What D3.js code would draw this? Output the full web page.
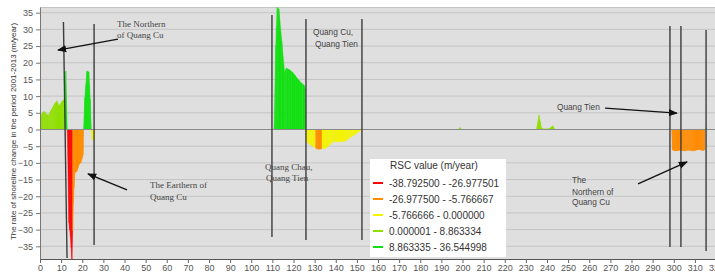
<!DOCTYPE html>
<html>
<head>
<meta charset="utf-8">
<script src="https://cdn.jsdelivr.net/npm/d3@7"></script>
<style>
  body { margin: 0; background: #fff; }
  svg { display: block; }
  .tick text { font-family: "Liberation Sans", Arial, sans-serif; font-size: 9px; fill: #555; }
</style>
</head>
<body>
<div id="viz"></div>
<script>
// transect ids along the shore and their RSC value (m/year)
const transectIds = [0, 1, 2, 3, 4, 5, 6, 7, 8, 9, 10, 10.8, 11.4, 12.2, 12.9, 13.7, 14.4, 15.1, 15.8, 16.5, 17.5, 18.5, 19.5, 20.4, 20.6,
  21.2, 22.2, 23.1, 23.8, 24.3, 24.7, 25.3, 25.8,
  110.8, 111.6, 112.3, 113.1, 115.8, 116.6, 118.3, 119.8, 121.7, 123.6, 125, 125.6, 125.9,
  126.2, 127, 128, 129, 130, 131, 132, 133, 134, 135, 136, 137, 138, 139, 140, 141, 142, 143, 144, 145, 146, 147, 148, 149, 150, 151, 152, 152.5,
  198, 198.8, 199.6,
  235, 236.2, 237.4, 238, 241, 242.8, 243.8,
  299, 299.4, 300, 301, 302, 303, 304, 305, 306, 307, 308, 309, 310, 311, 312, 313, 314, 314.6, 314.8, 315.2, 315.6, 320];
const rscValues = [3.5, 4.8, 5.5, 4.6, 4.2, 5.6, 6.6, 7.8, 8.6, 7.0, 8.0, 8.7, 8.8, 17.5, 0, -28, -32, -38.79, -22, -13, -12.5, -10.5, -9.8, -7.6, 0,
  9.5, 17.5, 17.2, 9, 0, -3, -3.1, 0,
  0, 25, 36.54, 36, 17, 18.4, 17.8, 17, 15.4, 14, 13.3, 12, 0,
  -3.6, -4.1, -4.5, -5.0, -5.3, -5.8, -5.9, -5.85, -5.6, -5.7, -5.2, -4.7, -4.1, -3.6, -3.6, -3.7, -3.7, -3.6, -3.5, -3.3, -2.8, -2.3, -1.9, -1.5, -1.0, -0.6, -0.2, 0,
  0, 0.6, 0,
  0, 4.3, 0.5, 0.2, 0.2, 1.1, 0,
  0, -6.1, -6.3, -6.4, -6.3, -6.2, -6.3, -6.4, -6.3, -6.2, -6.3, -6.4, -6.3, -6.1, -6.0, -6.2, -6.3, -6.1, 0, 0.6, 0, 0];

// legend classes
const classBreaks = [-26.977501, -5.766667, 0, 8.863334];
const classColors = ["#ff0000", "#ff8c00", "#f4f400", "#8fe000", "#12e012"];
const classLabels = ["-38.792500 - -26.977501", "-26.977500 - -5.766667", "-5.766666 - 0.000000",
  "0.000001 - 8.863334", "8.863335 - 36.544998"];

// hand drawn section lines: [x top, value top, x bottom, value bottom]
const sectionLines = [[11.1, 32.2, 12.8, -38.5], [25.6, 31.6, 25.6, -34.6], [109.8, 34.3, 109.8, -32.2],
  [125.9, 33.1, 125.9, -33.1], [152.4, 33.1, 152.4, -33.1], [298.2, 31, 298.2, -35.2],
  [303.4, 31, 303.4, -35.2], [315.3, 29.8, 315.3, -36.4]];

// annotation labels: [x, value, text, serif?]
const noteTexts = [
  [36.4, 30.7, "The Northern", 1], [36.4, 27.4, "of Quang Cu", 1],
  [52.1, -17.5, "The Earthern of", 1], [52.1, -21.1, "Quang Cu", 1],
  [129.2, 28.3, "Quang Cu,", 0], [130.2, 24.7, "Quang Tien", 0],
  [106.5, -12.1, "Quang Chau,", 1], [107, -15.4, "Quang Tien", 1],
  [244.7, 5.8, "Quang Tien", 0],
  [251.8, -16, "The", 0], [251.8, -19.6, "Northern of", 0], [251.8, -22.6, "Quang Cu", 0]
];
// arrows: [x from, value from, x to, value to]
const noteArrows = [[36.9, 27.1, 8.5, 23.8], [41.2, -18.1, 22.7, -13.3],
  [267.5, 6.4, 301.5, 4.9], [283.1, -16.3, 306.3, -9.7]];

const w = 715, h = 273;
const plotLeft = 40, plotTop = 7, plotBottom = 259;

const svg = d3.select("#viz").append("svg").attr("width", w).attr("height", h);

const x = d3.scaleLinear().domain([0, 320]).range([plotLeft, 716]);
const y = d3.scaleLinear().domain([-38.8, 36.7]).range([plotBottom, plotTop]);
const color = d3.scaleThreshold().domain(classBreaks).range(classColors);

const defs = svg.append("defs");
defs.append("clipPath").attr("id", "plot")
  .append("rect").attr("x", plotLeft).attr("y", plotTop).attr("width", w - plotLeft).attr("height", plotBottom - plotTop);
defs.append("marker").attr("id", "head")
  .attr("viewBox", "0 0 10 10").attr("refX", 9).attr("refY", 5)
  .attr("markerWidth", 7).attr("markerHeight", 7).attr("orient", "auto-start-reverse")
  .append("path").attr("d", "M0,1 L10,5 L0,9 z").attr("fill", "#111");

svg.append("rect").attr("x", plotLeft).attr("y", plotTop).attr("width", w - plotLeft).attr("height", plotBottom - plotTop)
  .attr("fill", "#dfdfdf");

// grid
const ticksY = d3.range(-35, 36, 5);
svg.append("g").selectAll("line").data(ticksY.filter(d => d !== 0)).enter().append("line")
  .attr("x1", plotLeft).attr("x2", w).attr("y1", d => y(d)).attr("y2", d => y(d))
  .attr("stroke", "#c4c4c4").attr("stroke-width", 1);
svg.append("line").attr("x1", plotLeft).attr("x2", w).attr("y1", plotTop + 0.5).attr("y2", plotTop + 0.5)
  .attr("stroke", "#c4c4c4");

// colored area, one piece per half segment so each class keeps its color
const pts = transectIds.map((t, i) => ({ x: t, v: rscValues[i] }));
const pieces = [];
for (let i = 0; i < pts.length - 1; i++) {
  const a = pts[i], b = pts[i + 1];
  if (a.v === 0 && b.v === 0) continue;
  if (a.v * b.v < 0) {
    const xc = a.x + (b.x - a.x) * a.v / (a.v - b.v);
    pieces.push({ p: [a, { x: xc, v: 0 }], c: color(a.v) });
    pieces.push({ p: [{ x: xc, v: 0 }, b], c: color(b.v) });
  } else if (a.v === 0) {
    pieces.push({ p: [a, b], c: color(b.v) });
  } else if (b.v === 0) {
    pieces.push({ p: [a, b], c: color(a.v) });
  } else {
    const m = { x: (a.x + b.x) / 2, v: (a.v + b.v) / 2 };
    pieces.push({ p: [a, m], c: color(a.v) });
    pieces.push({ p: [m, b], c: color(b.v) });
  }
}
const area = d3.area().x(d => x(d.x)).y0(y(0)).y1(d => y(d.v));
svg.append("g").attr("clip-path", "url(#plot)")
  .selectAll("path").data(pieces).enter().append("path")
  .attr("d", d => area(d.p))
  .attr("fill", d => d.c).attr("stroke", d => d.c).attr("stroke-width", 0.4);

// zero line
svg.append("line").attr("x1", plotLeft).attr("x2", w).attr("y1", y(0)).attr("y2", y(0))
  .attr("stroke", "#8a8a8a").attr("stroke-width", 1.2);

// section lines
svg.append("g").selectAll("line").data(sectionLines).enter().append("line")
  .attr("x1", d => x(d[0])).attr("y1", d => y(d[1]))
  .attr("x2", d => x(d[2])).attr("y2", d => y(d[3]))
  .attr("stroke", "#3c3c3c").attr("stroke-width", 1.4);

// axes
const yAxis = svg.append("g").attr("transform", `translate(${plotLeft},0)`)
  .call(d3.axisLeft(y).tickValues(ticksY).tickSize(4).tickSizeOuter(0).tickPadding(3));
yAxis.select(".domain").attr("stroke", "#777");
yAxis.selectAll(".tick line").attr("stroke", "#777");

const xAxis = svg.append("g").attr("transform", `translate(0,${plotBottom})`)
  .call(d3.axisBottom(x).tickValues(d3.range(0, 321, 10)).tickSize(4).tickSizeOuter(0).tickPadding(2));
xAxis.select(".domain").attr("stroke", "#555");
xAxis.selectAll(".tick line").attr("stroke", "#666");

svg.append("text")
  .attr("transform", `translate(16,${(23 + 240) / 2}) rotate(-90)`)
  .attr("text-anchor", "middle")
  .attr("textLength", 217).attr("lengthAdjust", "spacingAndGlyphs")
  .style("font-family", "Liberation Sans, Arial, sans-serif").style("font-size", "8px").style("fill", "#333")
  .text("The rate of shoreline change in the period 2001-2013 (m/year)");

// annotations
svg.append("g").selectAll("text").data(noteTexts).enter().append("text")
  .attr("x", d => x(d[0])).attr("y", d => y(d[1]))
  .style("font-family", d => d[3] ? "Liberation Serif, Times New Roman, serif" : "Liberation Sans, Arial, sans-serif")
  .style("font-size", d => d[3] ? "9px" : "8.3px").style("fill", "#444")
  .text(d => d[2]);
svg.append("g").selectAll("line").data(noteArrows).enter().append("line")
  .attr("x1", d => x(d[0])).attr("y1", d => y(d[1]))
  .attr("x2", d => x(d[2])).attr("y2", d => y(d[3]))
  .attr("stroke", "#111").attr("stroke-width", 1.3).attr("marker-end", "url(#head)");

// legend
const lg = svg.append("g").attr("transform", "translate(370,159)");
lg.append("rect").attr("width", 136).attr("height", 98).attr("fill", "#fff");
lg.append("text").attr("x", 20).attr("y", 10).style("font-family", "Liberation Sans, Arial, sans-serif")
  .style("font-size", "10px").style("fill", "#333").text("RSC value (m/year)");
const row = lg.selectAll(".row").data(classLabels).enter().append("g")
  .attr("transform", (d, i) => `translate(0,${24 + i * 16})`);
row.append("line").attr("x1", 3).attr("x2", 13).attr("stroke", (d, i) => classColors[i]).attr("stroke-width", 2);
row.append("text").attr("x", 19).attr("y", 3.5).style("font-family", "Liberation Sans, Arial, sans-serif")
  .style("font-size", "10px").style("fill", "#333").text(d => d);
</script>
</body>
</html>
